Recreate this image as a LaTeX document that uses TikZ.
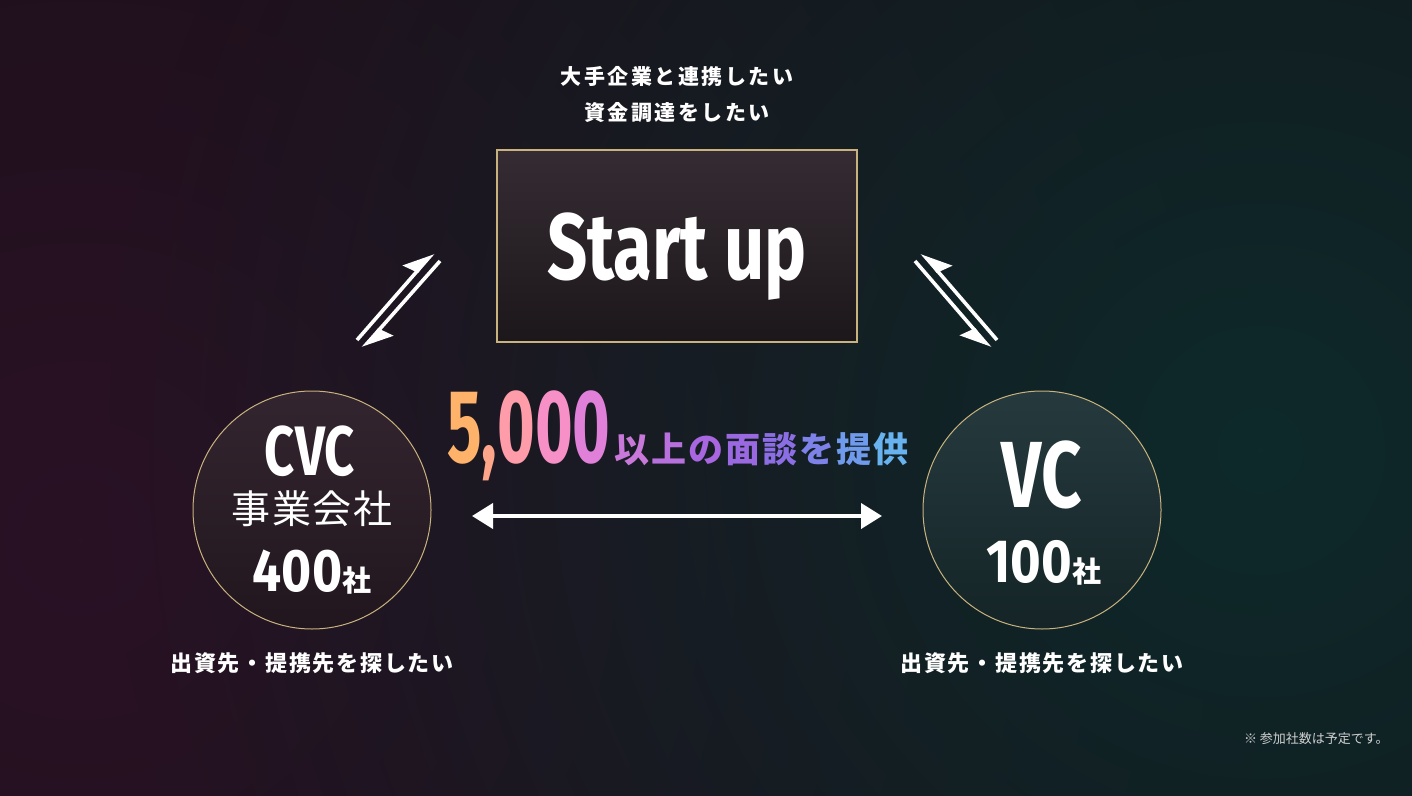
\documentclass[tikz,border=0pt]{standalone}
\usepackage{fontspec}
\usetikzlibrary{arrows.meta,fadings}

\newfontfamily\jpfont{Noto Sans CJK JP}
\newfontfamily\dinfont[FakeStretch=0.75]{Fira Sans}
\newfontfamily\dinnarrow[FakeStretch=0.62]{Fira Sans}
\newfontfamily\dinnum[FakeStretch=0.86]{Fira Sans}

\definecolor{bgbase}{HTML}{150E14}
\definecolor{glowred}{HTML}{2A1225}
\definecolor{glowteal}{HTML}{0E2A2B}
\definecolor{gold}{HTML}{C8B27E}
\definecolor{boxtop}{HTML}{352C33}
\definecolor{boxbot}{HTML}{1C171A}
\definecolor{cvctop}{HTML}{33252F}
\definecolor{cvcbot}{HTML}{21161E}
\definecolor{vctop}{HTML}{263A3D}
\definecolor{vcbot}{HTML}{142427}
\definecolor{notegray}{HTML}{D0D0D0}
% gradient of the count
\definecolor{gA}{HTML}{FFB36A}
\definecolor{gB}{HTML}{FFA58A}
\definecolor{gC}{HTML}{FF9CAA}
\definecolor{gD}{HTML}{F890C8}
\definecolor{gE}{HTML}{E080D8}
\definecolor{gF}{HTML}{C878D8}
\definecolor{gG}{HTML}{B870DC}
\definecolor{gH}{HTML}{A866E0}
\definecolor{gI}{HTML}{9A68E0}
\definecolor{gJ}{HTML}{8C6EE4}
\definecolor{gK}{HTML}{7E82E8}
\definecolor{gL}{HTML}{709AEC}
\definecolor{gM}{HTML}{68B2F0}

\newcommand{\gchar}[2]{\textcolor{#1}{#2}\hspace{1pt}}

\tikzfading[name=glow, inner color=transparent!0, outer color=transparent!100]

\tikzset{
    startbox/.style={draw=gold, line width=0.6pt, top color=boxtop, bottom color=boxbot,
        minimum width=180pt, minimum height=96pt, inner sep=0pt, text depth=0pt,
        text=white, font=\dinfont\bfseries\fontsize{47}{47}\selectfont},
    cvcball/.style={circle, draw=gold, line width=0.5pt, top color=cvctop, bottom color=cvcbot,
        minimum size=119pt, inner sep=0pt},
    vcball/.style={cvcball, top color=vctop, bottom color=vcbot},
    wish/.style={anchor=base, inner sep=0pt, text=white,
        font=\jpfont\bfseries\fontsize{10.5}{10.5}\selectfont\addfontfeatures{LetterSpace=12}},
    seek/.style={wish, font=\jpfont\bfseries\fontsize{11}{11}\selectfont\addfontfeatures{LetterSpace=8}},
    bigname/.style={anchor=base, inner sep=0pt, text=white},
    twoway/.style={white, line width=2pt,
        {Triangle[length=10.5pt, width=12.5pt]}-{Triangle[length=10.5pt, width=12.5pt]}},
    halfarrow/.style={white, line width=1.8pt, -{Stealth[harpoon, length=13pt, width=14.5pt, inset=2pt]}},
    halfarrowswap/.style={white, line width=1.8pt, -{Stealth[harpoon, swap, length=13pt, width=14.5pt, inset=2pt]}}
}

\begin{document}
\begin{tikzpicture}[x=0.5pt, y=-0.5pt]
    % Fons
    \useasboundingbox (0,0) rectangle (1412,796);
    \fill[bgbase] (0,0) rectangle (1412,796);
    \begin{scope}
        \clip (0,0) rectangle (1412,796);
        \fill[glowred, path fading=glow] (80,540) circle (1250);
        \fill[glowteal, path fading=glow] (1260,450) circle (1150);
    \end{scope}

    % Start up
    \node[wish] (wish1) at (677,85) {大手企業と連携したい};
    \node[wish] (wish2) at (677,121) {資金調達をしたい};
    \node[startbox] (startup) at (677,246) {Start up};

    % CVC
    \node[cvcball] (cvc) at (312,510) {};
    \node[bigname, font=\dinfont\bfseries\fontsize{35}{35}\selectfont] (cvcname) at (310,475) {CVC};
    \node[bigname, font=\jpfont\fontsize{19.5}{19.5}\selectfont\addfontfeatures{LetterSpace=4}] (cvckind) at (312,523) {事業会社};
    \node[bigname] (cvcnum) at (312,591)
        {{\dinnum\bfseries\fontsize{30}{30}\selectfont 400}{\jpfont\bfseries\fontsize{14.5}{14.5}\selectfont 社}};
    \node[seek] (cvcwish) at (312,671) {出資先・提携先を探したい};

    % VC
    \node[vcball] (vc) at (1042,510) {};
    \node[bigname, font=\dinfont\bfseries\fontsize{47}{47}\selectfont] (vcname) at (1042,507) {VC};
    \node[bigname] (vcnum) at (1044,582)
        {{\dinnum\bfseries\fontsize{30.5}{30.5}\selectfont 100}{\jpfont\bfseries\fontsize{14.5}{14.5}\selectfont 社}};
    \node[seek] (vcwish) at (1042,671) {出資先・提携先を探したい};

    % 5,000
    \node[anchor=base west, inner sep=0pt] (count) at (447,462)
        {\dinnarrow\bfseries\fontsize{52}{52}\selectfont
        \textcolor{gA}{5}\textcolor{gB}{,}\textcolor{gC}{0}\textcolor{gD}{0}\textcolor{gE}{0}};
    \node[anchor=base west, inner sep=0pt, font=\jpfont\bfseries\fontsize{17.5}{17.5}\selectfont]
        (offer) at ([xshift=1.5pt]count.base east)
        {\gchar{gF}{以}\gchar{gG}{上}\gchar{gH}{の}\gchar{gI}{面}\gchar{gJ}{談}\gchar{gK}{を}\gchar{gL}{提}\textcolor{gM}{供}};

    % Fletxes
    \coordinate (meetL) at (472,516);
    \coordinate (meetR) at (882,516);
    \draw[twoway] (meetL) -- (meetR);

    \coordinate (cvcUpA) at (357,340);
    \coordinate (cvcUpB) at (433,253);
    \coordinate (cvcDnA) at (440,261);
    \coordinate (cvcDnB) at (363,348);
    \draw[halfarrow] (cvcUpA) -- (cvcUpB);
    \draw[halfarrow] (cvcDnA) -- (cvcDnB);

    \coordinate (vcUpA) at (997,340);
    \coordinate (vcUpB) at (922,253);
    \coordinate (vcDnA) at (915,261);
    \coordinate (vcDnB) at (990,348);
    \draw[halfarrowswap] (vcUpA) -- (vcUpB);
    \draw[halfarrowswap] (vcDnA) -- (vcDnB);

    % Nota
    \node[anchor=base east, inner sep=0pt, text=notegray, font=\jpfont\fontsize{6.5}{6.5}\selectfont] (note) at (1389,743) {※ 参加社数は予定です。};
\end{tikzpicture}
\end{document}
